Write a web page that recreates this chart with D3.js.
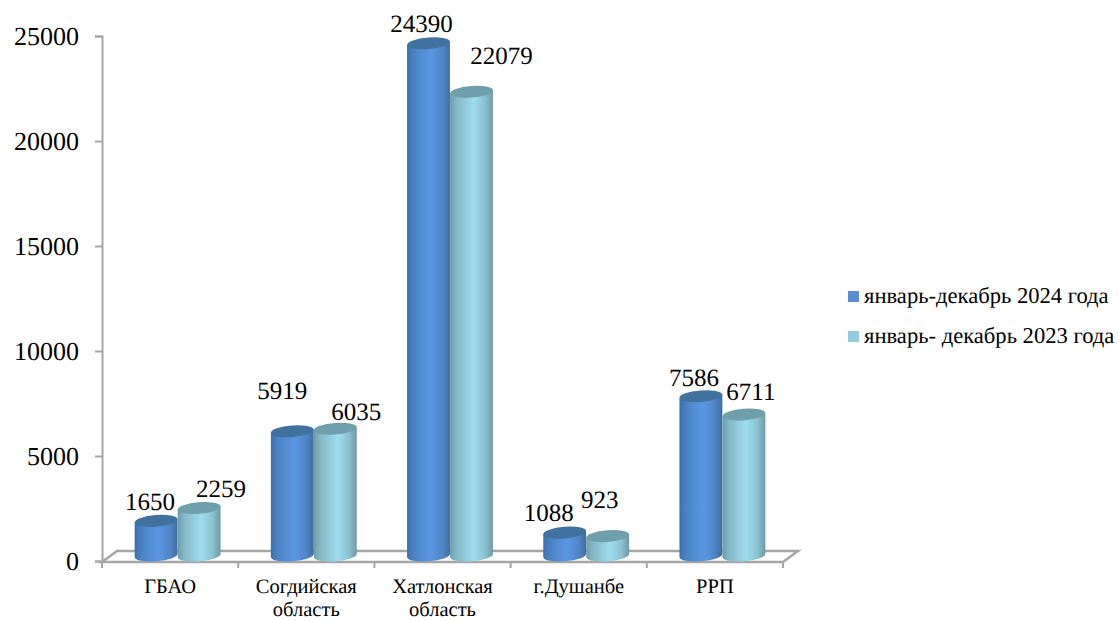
<!DOCTYPE html>
<html><head><meta charset="utf-8">
<script src="https://cdn.jsdelivr.net/npm/d3@7/dist/d3.min.js"></script>
<style>html,body{margin:0;background:#fff}svg{display:block;text-rendering:geometricPrecision}text{font-family:"Liberation Serif",serif;fill:#000}</style>
</head><body><svg id="c" width="1118" height="620"></svg>
<script>
const categories = ["ГБАО", "Согдийская область", "Хатлонская область", "г.Душанбе", "РРП"];
const series2024 = [1650, 5919, 24390, 1088, 7586];
const series2023 = [2259, 6035, 22079, 923, 6711];
const seriesNames = ["январь-декабрь 2024 года", "январь- декабрь 2023 года"];
const yTicks = [0, 5000, 10000, 15000, 20000, 25000];

const svg = d3.select("#c");
const left = 102, right = 783, top_ = 36, bottom = 561, depthX = 15, depthY = 11;
const x = d3.scaleBand().domain(categories).range([left, right]);
const y = d3.scaleLinear().domain([0, 25000]).range([bottom, top_]);
const inner = d3.scaleBand().domain([0, 1]).range([-43, 43]);
const grey = "#a6a6a6";

const defs = svg.append("defs");
function grad(id, edgeL, mid, edgeR) {
  const g = defs.append("linearGradient").attr("id", id);
  [[0, edgeL], [0.15, d3.interpolateRgb(edgeL, mid)(0.45)], [0.55, mid], [0.82, d3.interpolateRgb(edgeR, mid)(0.6)], [1, edgeR]]
    .forEach(s => g.append("stop").attr("offset", s[0]).attr("stop-color", s[1]));
}
grad("g0", "#3e6fa9", "#5b98e2", "#3f6c9f");
grad("g1", "#6f9ba6", "#9edcee", "#6f98a4");
const tops = ["#41719f", "#6f9fab"];
const bodyFill = ["url(#g0)", "url(#g1)"];
const legendFill = ["#5a8fd6", "#94cddf"];

// floor
const floor = d3.path();
floor.moveTo(left, bottom + 1); floor.lineTo(right, bottom + 1);
floor.lineTo(right + depthX, bottom - depthY + 1); floor.lineTo(left + depthX, bottom - depthY + 1); floor.closePath();
svg.append("path").attr("d", floor.toString()).attr("fill", "none").attr("stroke", grey).attr("stroke-width", 2.5);

// axes
const yAxis = svg.append("g").attr("transform", `translate(${left},0)`)
  .call(d3.axisLeft(y).tickValues(yTicks).tickSize(7).tickPadding(16).tickFormat(d3.format("d")));
yAxis.selectAll("line,path").attr("stroke", grey).attr("stroke-width", 2);
yAxis.selectAll("text").attr("font-size", 26).attr("font-family", "Liberation Serif");

const boundaries = categories.map(c => x(c)).concat([right]);
svg.append("g").selectAll("line").data(boundaries).join("line")
  .attr("x1", d => d).attr("x2", d => d).attr("y1", bottom).attr("y2", bottom + 7)
  .attr("stroke", grey).attr("stroke-width", 2);

const xAxis = svg.append("g").attr("transform", `translate(0,${bottom})`)
  .call(d3.axisBottom(x).tickSize(0).tickPadding(0));
xAxis.select("path").remove();
xAxis.selectAll("text").each(function (d) {
  const t = d3.select(this).text(null).attr("font-size", 20.5).attr("font-family", "Liberation Serif").attr("y", 0).attr("dy", 0);
  d.split(" ").forEach((w, i) => t.append("tspan").attr("x", 0).attr("y", 32 + i * 22.5).text(w));
});

// cylinders
const rx = 21.5, ry = 5.8, tilt = 4.5 * Math.PI / 180;
const dx = rx * Math.cos(tilt), dy = rx * Math.sin(tilt);
const deg = tilt * 180 / Math.PI;
const cx = (c, s) => x(c) + x.bandwidth() / 2 + depthX / 2 + inner(s) + inner.bandwidth() / 2;
const cy = v => y(v) - depthY / 2;

[series2024, series2023].forEach((vals, s) => {
  const g = svg.append("g");
  g.selectAll("path.body").data(categories).join("path").attr("class", "body")
    .attr("fill", bodyFill[s])
    .attr("d", (c, i) => {
      const X = cx(c, s), T = cy(vals[i]), B = cy(0);
      return `M${X - dx},${T + dy}L${X - dx},${B + dy}A${rx},${ry} ${-deg} 0 0 ${X + dx},${B - dy}L${X + dx},${T - dy}Z`;
    });
  g.selectAll("ellipse").data(categories).join("ellipse")
    .attr("rx", rx).attr("ry", ry).attr("fill", tops[s])
    .attr("transform", (c, i) => `translate(${cx(c, s)},${cy(vals[i])}) rotate(${-deg})`);
});

// data labels
const labelShift = [
  [[-6, -2], [-10, 19], [-7, -2], [-16, -1], [-7, -3]],
  [[22, -2], [21, -4], [30, 15], [-8, 15], [7, 2]]
];
[series2024, series2023].forEach((vals, s) => {
  svg.append("g").selectAll("text").data(categories).join("text")
    .attr("text-anchor", "middle").attr("font-size", 25)
    .attr("x", (c, i) => cx(c, s) + labelShift[s][i][0])
    .attr("y", (c, i) => cy(vals[i]) - 13 - labelShift[s][i][1])
    .text((c, i) => vals[i]);
});

// legend
const leg = svg.append("g").selectAll("g").data(seriesNames).join("g")
  .attr("transform", (d, i) => `translate(848,${291 + i * 40})`);
leg.append("rect").attr("width", 11).attr("height", 11).attr("fill", (d, i) => legendFill[i]);
leg.append("text").attr("x", 16).attr("y", 12).attr("font-size", 22.6).text(d => d);
</script></body></html>
